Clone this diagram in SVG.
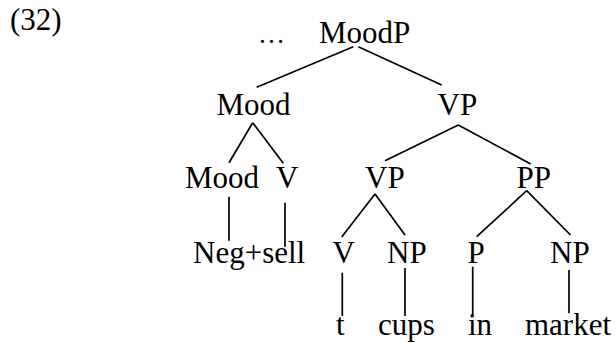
<svg xmlns="http://www.w3.org/2000/svg" width="616" height="343" viewBox="0 0 616 343">
<style>
text{font-family:"Liberation Serif","Times New Roman",serif;font-size:31px;fill:#000}
.e{font-size:27px}
line{stroke:#000;stroke-width:1.7;fill:none}
</style>
<rect width="616" height="343" fill="#fff"/>
<text id="label" x="10" y="30">(32)</text>
<g id="n-ellipsis"><text class="e" x="258" y="43">…</text></g>
<g id="n-moodp"><text x="319" y="43">MoodP</text></g>
<g id="n-mood1"><text x="216.5" y="115">Mood</text></g>
<g id="n-vp1"><text x="437.5" y="115">VP</text></g>
<g id="n-mood2"><text x="185" y="188">Mood</text></g>
<g id="n-v1"><text x="276" y="188">V</text></g>
<g id="n-vp2"><text x="365" y="188">VP</text></g>
<g id="n-pp"><text x="516.5" y="188">PP</text></g>
<g id="n-negsell"><text x="193" y="262.5">Neg+sell</text></g>
<g id="n-v2"><text x="332.5" y="262.5">V</text></g>
<g id="n-np1"><text x="387" y="262.5">NP</text></g>
<g id="n-p"><text x="467.5" y="262.5">P</text></g>
<g id="n-np2"><text x="550" y="262.5">NP</text></g>
<g id="n-t"><text x="336" y="335">t</text></g>
<g id="n-cups"><text x="378" y="335">cups</text></g>
<g id="n-in"><text x="468" y="335">in</text></g>
<g id="n-market"><text x="525" y="335">market</text></g>
<g id="connectors">
<line x1="353.3" y1="46.7" x2="256.7" y2="87.3"/>
<line x1="358.3" y1="46.7" x2="441.7" y2="85"/>
<line x1="252.7" y1="122.7" x2="229" y2="162.7"/>
<line x1="252.7" y1="122.7" x2="283.3" y2="163.3"/>
<line x1="458.3" y1="125" x2="385" y2="160.7"/>
<line x1="458.3" y1="125" x2="530.7" y2="164"/>
<line x1="229" y1="196.7" x2="229" y2="240.7"/>
<line x1="285" y1="202.7" x2="285" y2="246.7"/>
<line x1="375" y1="194" x2="341.7" y2="237"/>
<line x1="375" y1="194" x2="405" y2="235"/>
<line x1="526.7" y1="190.7" x2="476.7" y2="236.7"/>
<line x1="526.7" y1="190.7" x2="570.5" y2="235"/>
<line x1="342.3" y1="272.7" x2="342.3" y2="316"/>
<line x1="405" y1="268" x2="405" y2="316"/>
<line x1="472.7" y1="266.7" x2="472.7" y2="316.7"/>
<line x1="569" y1="270" x2="569" y2="313.3"/>
</g>
</svg>
